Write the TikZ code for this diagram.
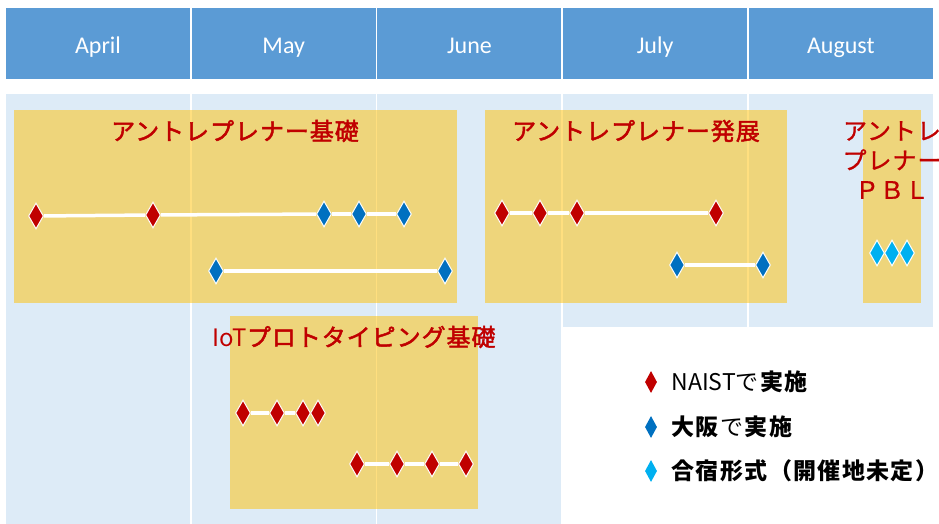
\documentclass[tikz,border=0pt]{standalone}
\usepackage{fontspec}
\setmainfont{Carlito}
\newfontfamily\jps[LetterSpace=4,FakeBold=2]{Noto Sans CJK JP}
\newfontfamily\jpr[LetterSpace=4,FakeBold=1]{Noto Sans CJK JP}
\newfontfamily\jpl[LetterSpace=6]{Noto Sans CJK JP}
\newfontfamily\jp{Noto Sans CJK JP}
\usetikzlibrary{shapes.geometric}
\definecolor{hdr}{HTML}{5B9BD5}
\definecolor{lblue}{HTML}{DDEBF7}
\definecolor{gold}{HTML}{FFC000}
\definecolor{myred}{HTML}{C00000}
\definecolor{myblue}{HTML}{0070C0}
\definecolor{mycyan}{HTML}{00B0F0}
\tikzset{
  ybox/.style={fill=gold, fill opacity=0.5, draw=none},
  month/.style={text=white, anchor=base, inner sep=0pt, font=\fontsize{24}{28}\selectfont},
  dia/.style={diamond, inner sep=0pt, minimum width=15pt, minimum height=26pt, draw=white, line width=1pt},
  dred/.style={dia, fill=myred},
  dblue/.style={dia, fill=myblue},
  dcyan/.style={dia, fill=mycyan},
  ldia/.style={diamond, inner sep=0pt, minimum width=12pt, minimum height=22pt, draw=none},
  link/.style={draw=white, line width=3.5pt},
  ttl/.style={text=myred, font=\jps\fontsize{24}{29.5}\selectfont},
  ttlr/.style={text=myred, font=\jpr\fontsize{24}{29.5}\selectfont},
  legtxt/.style={anchor=west, text=black, font=\jpl\fontsize{23}{26}\selectfont}
}
\begin{document}
\begin{tikzpicture}[x=1pt,y=-1pt]
\useasboundingbox (0,0) rectangle (939,523);
\clip (0,0) rectangle (939,523);
% header
\foreach \i/\m in {0/April,1/May,2/June,3/July,4/August}{
  \fill[hdr] (6+185.7*\i,8) rectangle ++(184,70.5);
  \node[month] (m\i) at (6+185.7*\i+92,53) {\m};
}
% light blue columns
\foreach \i in {0,1,2}{
  \fill[lblue] (6+185.7*\i,93.5) rectangle ++(184,440);
}
\foreach \i in {3,4}{
  \fill[lblue] (6+185.7*\i,93.5) rectangle ++(184,233.5);
}
% yellow boxes
\fill[ybox] (14,110) rectangle (457,303);
\fill[ybox] (485,110) rectangle (787,303);
\fill[ybox] (863,110) rectangle (921,303);
\fill[ybox] (230,316) rectangle (478,509);
% titles
\node[ttl] (t1) at (235,131) {アントレプレナー基礎};
\node[ttl] (t2) at (636,131) {アントレプレナー発展};
\node[ttlr, align=center] (t3) at (892,160) {アントレ\\プレナー\\ＰＢＬ};
\node[ttl] (t4) at (354,337) {{\jp IoT}プロトタイピング基礎};
% box1
\node[dred] (a1) at (36,216) {};
\node[dred] (a2) at (153,215) {};
\node[dblue] (a3) at (324,214) {};
\node[dblue] (a4) at (359,214) {};
\node[dblue] (a5) at (404,214) {};
\draw[link] (a1) -- (a2); \draw[link] (a2) -- (a3); \draw[link] (a3) -- (a4); \draw[link] (a4) -- (a5);
\node[dblue] (b1) at (216,271) {};
\node[dblue] (b2) at (445,271) {};
\draw[link] (b1) -- (b2);
% box2
\node[dred] (c1) at (502,213) {};
\node[dred] (c2) at (540,213) {};
\node[dred] (c3) at (577,213) {};
\node[dred] (c4) at (716,213) {};
\draw[link] (c1) -- (c2); \draw[link] (c2) -- (c3); \draw[link] (c3) -- (c4);
\node[dblue] (d1) at (677,265) {};
\node[dblue] (d2) at (763,265) {};
\draw[link] (d1) -- (d2);
% box3
\node[dcyan] (e1) at (877,253) {};
\node[dcyan] (e2) at (892,253) {};
\node[dcyan] (e3) at (907,253) {};
% IoT
\node[dred] (f1) at (243,413) {};
\node[dred] (f2) at (277,413) {};
\node[dred] (f3) at (303,413) {};
\node[dred] (f4) at (318,413) {};
\draw[link] (f1) -- (f2); \draw[link] (f2) -- (f3);
\node[dred] (g1) at (357,464) {};
\node[dred] (g2) at (397,464) {};
\node[dred] (g3) at (432,464) {};
\node[dred] (g4) at (466,464) {};
\draw[link] (g1) -- (g2); \draw[link] (g2) -- (g3); \draw[link] (g3) -- (g4);
% legend
\node[ldia, fill=myred] (l1) at (651,382) {};
\node[ldia, fill=myblue] (l2) at (651,427) {};
\node[ldia, fill=mycyan] (l3) at (651,471) {};
\node[legtxt] (lt1) at (668,382) {{\jp NAIST}で\textbf{実施}};
\node[legtxt] (lt2) at (668,427) {\textbf{大阪}で\textbf{実施}};
\node[legtxt] (lt3) at (668,471) {\textbf{合宿形式（開催地未定）}};
\end{tikzpicture}
\end{document}
